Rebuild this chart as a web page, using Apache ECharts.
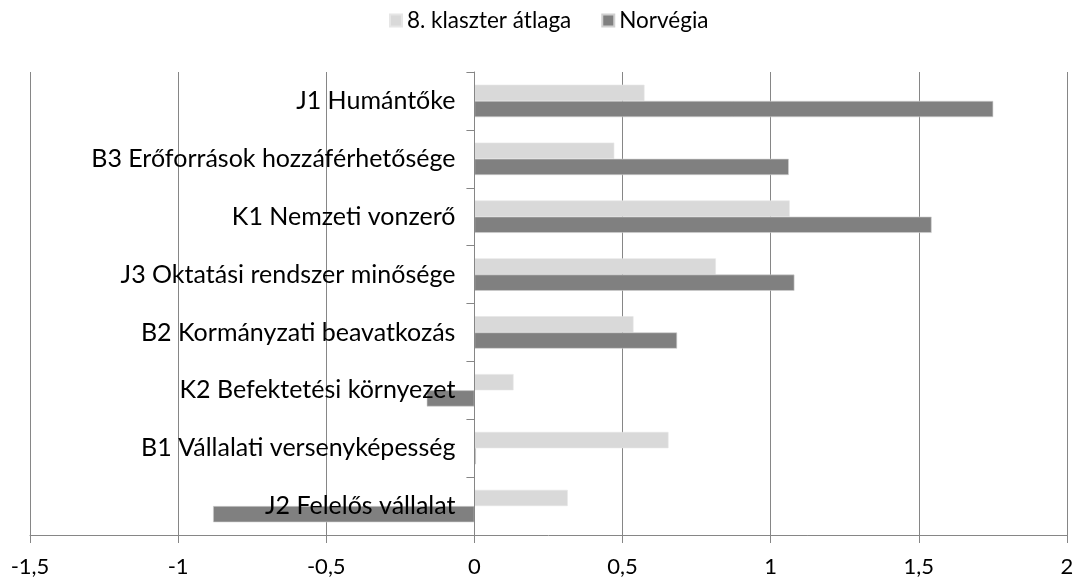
<!DOCTYPE html>
<html>
<head>
<meta charset="utf-8">
<script src="https://cdn.jsdelivr.net/npm/echarts@6/dist/echarts.min.js"></script>
<style>
  html, body { margin: 0; padding: 0; background: #fff; }
  #chart { width: 1080px; height: 583px; }
</style>
</head>
<body>
<div id="chart"></div>
<script>
// Indicators, listed top to bottom
const categories = [
  'J1 Humántőke',
  'B3 Erőforrások hozzáférhetősége',
  'K1 Nemzeti vonzerő',
  'J3 Oktatási rendszer minősége',
  'B2 Kormányzati beavatkozás',
  'K2 Befektetési környezet',
  'B1 Vállalati versenyképesség',
  'J2 Felelős vállalat'
];
const seriesNames = ['8. klaszter átlaga', 'Norvégia'];
const clusterAvg = [0.574, 0.472, 1.064, 0.815, 0.537, 0.132, 0.655, 0.315];
const norway = [1.751, 1.061, 1.543, 1.08, 0.684, -0.161, 0.005, -0.882];
const xMin = -1.5, xMax = 2, xStep = 0.5;

const chart = echarts.init(document.getElementById('chart'), null, { renderer: 'canvas' });
const font = 'Lato';
const gridGrey = '#868686';
const gridLeft = 30;

chart.setOption({
  animation: false,
  textStyle: { fontFamily: font },
  legend: {
    top: 4,
    left: 384,
    itemWidth: 12,
    itemHeight: 12,
    itemGap: 30,
    icon: 'rect',
    textStyle: { fontFamily: font, fontSize: 22.5, color: '#000' },
    data: seriesNames
  },
  grid: { left: gridLeft, right: 13, top: 72, bottom: 48, containLabel: false, outerBoundsMode: 'none' },
  xAxis: {
    type: 'value',
    min: xMin,
    max: xMax,
    interval: xStep,
    axisLine: { show: true, onZero: false, lineStyle: { color: gridGrey, width: 1 } },
    axisTick: { show: true, length: 8, lineStyle: { color: gridGrey } },
    splitLine: { show: true, lineStyle: { color: gridGrey, width: 1 } },
    axisLabel: {
      fontFamily: font,
      fontSize: 22,
      color: '#000',
      margin: 21,
      formatter: v => String(v).replace('.', ',')
    }
  },
  yAxis: {
    type: 'category',
    inverse: true,
    data: categories,
    z: 10,
    axisLine: { show: true, onZero: false, lineStyle: { color: gridGrey, width: 1 } },
    axisTick: { show: true, length: 8, lineStyle: { color: gridGrey } },
    axisLabel: { fontFamily: font, fontSize: 25, color: '#000', margin: 19 },
    splitLine: { show: false }
  },
  series: [
    {
      name: seriesNames[0],
      type: 'bar',
      data: clusterAvg,
      barGap: '0%',
      barCategoryGap: '44%',
      itemStyle: { color: '#d9d9d9', borderColor: '#e6e6e6', borderWidth: 0.6 }
    },
    {
      name: seriesNames[1],
      type: 'bar',
      data: norway,
      barGap: '0%',
      barCategoryGap: '44%',
      itemStyle: { color: '#808080', borderColor: '#d0d0d0', borderWidth: 0.6 }
    }
  ]
});

// Move the category axis (line, ticks and labels) to the x = 0 position
const zeroX = chart.convertToPixel({ xAxisIndex: 0 }, 0);
chart.setOption({ yAxis: { offset: -(zeroX - gridLeft) } });
</script>
</body>
</html>
